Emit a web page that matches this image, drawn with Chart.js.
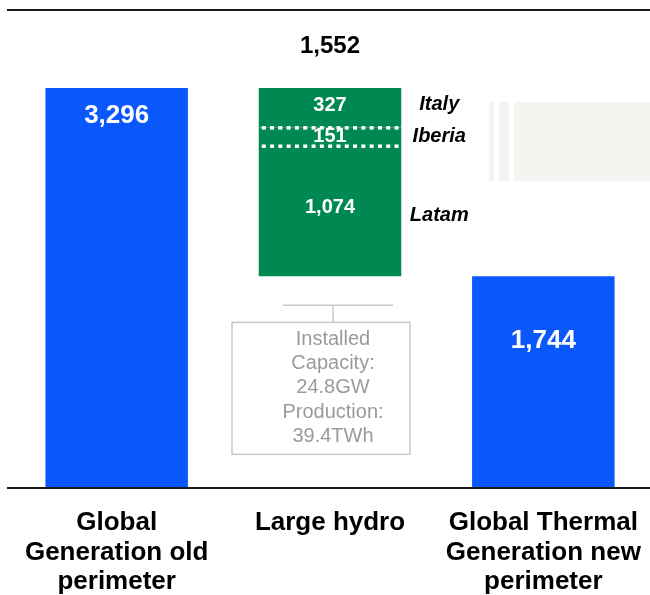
<!DOCTYPE html>
<html>
<head>
<meta charset="utf-8">
<script src="https://cdn.jsdelivr.net/npm/chart.js@4/dist/chart.umd.min.js"></script>
<style>
  html, body { margin: 0; padding: 0; background: #fff; }
  #wrap { width: 650px; height: 595px; }
</style>
</head>
<body>
<div id="wrap"><canvas id="gen-chart"></canvas></div>
<script>
// chart data
var categories = [["Global", "Generation old", "perimeter"], "Large hydro", ["Global Thermal", "Generation new", "perimeter"]];
var totals = [3296, null, 1744];
var hydroNames = ["Latam", "Iberia", "Italy"];
var hydroValues = [1074, 151, 327];
var hydroTotal = 1552;
var noteLines = ["Installed", "Capacity:", "24.8GW", "Production:", "39.4TWh"];

var BLUE = '#0a57fb';
var GREEN = '#008853';
var FONT = '"Liberation Sans", Arial, sans-serif';

function fmt(v){
	return v.toLocaleString('en-US');
}

// floating segments for the hydro bar, sitting on top of the new perimeter total
var datasets = [{
	label: 'Total',
	data: totals.map(function(v){ return v === null ? null : [0, v]; }),
	backgroundColor: BLUE,
	grouped: false
}];
var base = totals[2];
hydroNames.forEach(function(name, i){
	var from = base;
	base = base + hydroValues[i];
	datasets.push({
		label: name,
		data: [null, [from, base], null],
		backgroundColor: GREEN,
		grouped: false
	});
});

var decorations = {
	id: 'decorations',
	afterDatasetsDraw: function(chart){
		var ctx = chart.ctx;
		var area = chart.chartArea;
		var y = chart.scales.y;
		ctx.save();

		// faint block on the right
		ctx.fillStyle = '#f4f4f0';
		ctx.fillRect(489, 102, 5, 79);
		ctx.fillRect(499, 102, 10, 79);
		ctx.fillRect(514, 102, 136, 79);

		// top rule and base line
		ctx.strokeStyle = '#1a1a1a';
		ctx.lineWidth = 2;
		ctx.beginPath();
		ctx.moveTo(7, area.top); ctx.lineTo(650, area.top);
		ctx.moveTo(7, y.getPixelForValue(0)); ctx.lineTo(650, y.getPixelForValue(0));
		ctx.stroke();

		ctx.textAlign = 'center';
		ctx.textBaseline = 'middle';

		// totals
		var totalMeta = chart.getDatasetMeta(0);
		ctx.fillStyle = '#fff';
		ctx.font = 'bold 26px ' + FONT;
		var b0 = totalMeta.data[0];
		ctx.fillText(fmt(totals[0]), b0.x, b0.y + 28);
		var b2 = totalMeta.data[2];
		ctx.fillText(fmt(totals[2]), b2.x, b2.y + 65);

		// hydro segments
		var hx, hTop, hBottom, hRight;
		hydroNames.forEach(function(name, i){
			var bar = chart.getDatasetMeta(i + 1).data[1];
			var top = Math.min(bar.y, bar.base), bottom = Math.max(bar.y, bar.base);
			hx = bar.x;
			hRight = bar.x + bar.width / 2;
			if (i === 0) hBottom = bottom;
			hTop = top;
			ctx.fillStyle = '#fff';
			ctx.font = 'bold 20px ' + FONT;
			var ly = (top + bottom) / 2;
			if (name === 'Latam') ly -= 4;
			if (name === 'Italy') ly -= 2;
			ctx.fillText(fmt(hydroValues[i]), bar.x, ly);
			// dotted separator at the base of upper segments
			if (i > 0) {
				for (var dx = bar.x - bar.width / 2 + 3; dx < bar.x + bar.width / 2 - 3; dx += 8.3) {
					ctx.fillRect(dx, bottom - 1.5, 4, 3.5);
				}
			}
			ctx.fillStyle = '#000';
			ctx.font = 'italic bold 20px ' + FONT;
			var ny = ly;
			if (name === 'Latam') ny = ly + 8;
			if (name === 'Italy') ny = ly - 1;
			ctx.fillText(name, hRight + 38, ny);
		});

		// hydro total above the bar
		ctx.fillStyle = '#000';
		ctx.font = 'bold 24px ' + FONT;
		ctx.fillText(fmt(hydroTotal), hx, hTop - 42);

		// connector and note box
		ctx.strokeStyle = '#c8c8c8';
		ctx.lineWidth = 1.5;
		ctx.beginPath();
		ctx.moveTo(hx - 47, hBottom + 29); ctx.lineTo(hx + 63, hBottom + 29);
		ctx.moveTo(hx + 3, hBottom + 29); ctx.lineTo(hx + 3, hBottom + 46);
		ctx.stroke();
		ctx.strokeRect(hx - 98, hBottom + 46, 178, 132);
		ctx.fillStyle = '#9a9a9a';
		ctx.font = '20px ' + FONT;
		noteLines.forEach(function(t, i){
			ctx.fillText(t, hx + 3, hBottom + 63 + i * 24.3);
		});

		ctx.restore();
	}
};

var chart = new Chart(document.getElementById('gen-chart'), {
	type: 'bar',
	data: {
		labels: categories,
		datasets: datasets
	},
	options: {
		responsive: true,
		maintainAspectRatio: false,
		animation: false,
		events: [],
		barPercentage: 0.668,
		categoryPercentage: 1,
		layout: { padding: { top: 10, left: 10, right: 0, bottom: 0 } },
		plugins: {
			legend: { display: false },
			tooltip: { enabled: false }
		},
		scales: {
			x: {
				grid: { display: false, drawTicks: false },
				border: { display: false },
				afterFit: function(scale){
					scale.height = 107;
					scale.paddingLeft = 0;
					scale.paddingRight = 0;
				},
				ticks: {
					color: '#000',
					padding: 20,
					maxRotation: 0,
					autoSkip: false,
					font: { family: FONT, size: 26, weight: 'bold', lineHeight: 1.14 }
				}
			},
			y: {
				display: false,
				min: 0,
				max: 3938
			}
		}
	},
	plugins: [decorations]
});
</script>
</body>
</html>
